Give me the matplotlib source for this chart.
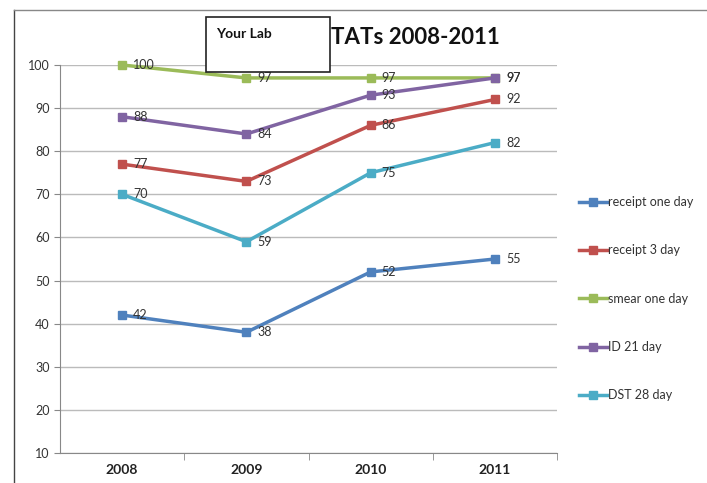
import matplotlib.pyplot as plt
from matplotlib.patches import Rectangle
from matplotlib.lines import Line2D

years = ['2008', '2009', '2010', '2011']
receipt_one = [42, 38, 52, 55]
receipt_3 = [77, 73, 86, 92]
smear_one = [100, 97, 97, 97]
id_21 = [88, 84, 93, 97]
dst_28 = [70, 59, 75, 82]

series = [
    ('receipt one day', receipt_one, '#4F81BD'),
    ('receipt 3 day', receipt_3, '#C0504D'),
    ('smear one day', smear_one, '#9BBB59'),
    ('ID 21 day', id_21, '#8064A2'),
    ('DST 28 day', dst_28, '#4BACC6'),
]

plt.rcParams['font.family'] = ['Lato', 'DejaVu Sans']

fig = plt.figure(figsize=(7.07, 4.83), dpi=100)
ax = fig.add_axes([60/707, 1 - 453/483, 497/707, 388/483])

x = list(range(len(years)))
handles = []
for name, vals, col in series:
    ln, = ax.plot(x, vals, color=col, lw=2.5, marker='s', ms=6, label=name, clip_on=False)
    handles.append(ln)
    for xi, v in zip(x, vals):
        ax.annotate(str(v), (xi, v), xytext=(8, 0), textcoords='offset points',
                    va='center', ha='left', fontsize=9, color='#333333')

ax.set_xlim(-0.5, 3.5)
ax.set_ylim(10, 100)
ax.set_yticks(range(10, 101, 10))
ax.set_xticks(x)
ax.set_xticklabels(years, fontsize=10, fontweight='bold', color='#222222')
ax.tick_params(axis='y', labelsize=9, colors='#333333', length=4, color='#888888')
ax.tick_params(axis='x', length=0, pad=8)
ax.set_xticks([0.5, 1.5, 2.5, 3.5], minor=True)
ax.tick_params(axis='x', which='minor', length=5, color='#888888')
ax.grid(axis='y', color='#BBBBBB', lw=1)
ax.set_axisbelow(True)
for s in ['top', 'right']:
    ax.spines[s].set_visible(False)
ax.spines['left'].set_color('#888888')
ax.spines['bottom'].set_color('#888888')

# outer chart border (left and top visible)
fig.add_artist(Line2D([14/707, 14/707], [0, 1 - 10/483], color='#444444', lw=1))
fig.add_artist(Line2D([14/707, 1], [1 - 10/483, 1 - 10/483], color='#888888', lw=1))

fig.text(415/707, 1 - 37/483, 'TATs 2008-2011', ha='center', va='center',
         fontsize=16, fontweight='bold', color='#111111')
fig.add_artist(Rectangle((206/707, 1 - 72/483), 124/707, 55/483, transform=fig.transFigure,
                         facecolor='white', edgecolor='#222222', lw=1.2, zorder=5))
fig.text(216/707, 1 - 34/483, 'Your Lab', ha='left', va='center', fontsize=10,
         fontweight='bold', color='#111111', zorder=6)

fig.legend(handles=handles, loc='upper left', bbox_to_anchor=(568/707, 1 - 185/483),
           frameon=False, fontsize=9, labelspacing=2.9, handlelength=2.2,
           handletextpad=0.1, labelcolor='#333333')

fig.savefig('out.png', dpi=100)
